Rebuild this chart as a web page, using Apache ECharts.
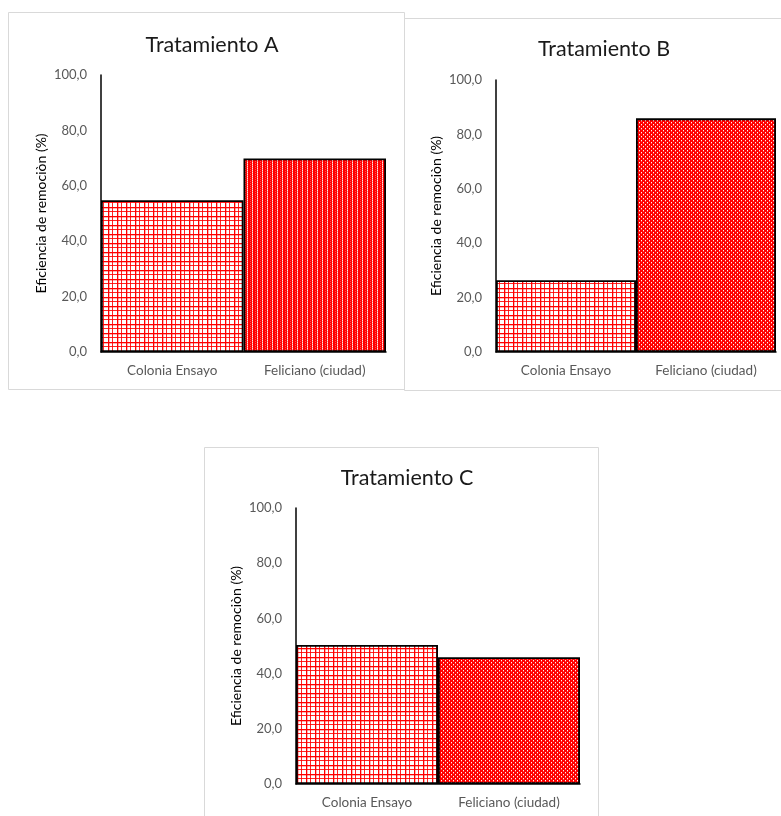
<!DOCTYPE html>
<html>
<head>
<meta charset="utf-8">
<script src="https://cdn.jsdelivr.net/npm/echarts@6/dist/echarts.min.js"></script>
<style>
  html, body { margin: 0; padding: 0; background: #ffffff; }
  #chart { width: 781px; height: 816px; }
</style>
</head>
<body>
<div id="chart"></div>
<script>
// Removal efficiency (%) per site for each treatment
const categories = ['Colonia Ensayo', 'Feliciano (ciudad)'];
const tratamientoA = [54.8, 69.9];
const tratamientoB = [26.4, 85.9];
const tratamientoC = [50.4, 45.9];
const panelTitles = ['Tratamiento A', 'Tratamiento B', 'Tratamiento C'];
const yAxisName = 'Eficiencia de remociòn (%)';
const yMin = 0, yMax = 100, yStep = 20;

// Fill patterns drawn on small tiles
function makeTile(w, h, draw) {
  const c = document.createElement('canvas');
  c.width = w; c.height = h;
  draw(c.getContext('2d'));
  return c;
}
// Grid (crosshatch) fill: white with red lines
const gridTile = makeTile(9, 9, ctx => {
  ctx.fillStyle = '#ffffff'; ctx.fillRect(0, 0, 9, 9);
  ctx.fillStyle = '#ff0000';
  ctx.fillRect(0, 0, 9, 1); ctx.fillRect(0, 0, 1, 9);
  ctx.fillStyle = 'rgba(255,0,0,0.85)';
  ctx.fillRect(0, 4, 9, 1); ctx.fillRect(4, 0, 1, 9);
  ctx.fillStyle = 'rgba(255,0,0,0.3)';
  ctx.fillRect(0, 1, 9, 1); ctx.fillRect(1, 0, 1, 9);
});
// Dotted fill: red with small white dots in offset rows
const dotTile = makeTile(4, 4, ctx => {
  ctx.fillStyle = '#ff0000'; ctx.fillRect(0, 0, 4, 4);
  ctx.fillStyle = 'rgba(255,255,255,0.95)';
  ctx.fillRect(1, 0, 1, 1); ctx.fillRect(3, 2, 1, 1);
  ctx.fillStyle = 'rgba(255,255,255,0.35)';
  ctx.fillRect(1, 1, 1, 1); ctx.fillRect(3, 3, 1, 1);
});
// Striped-dot fill: red with pale vertical dotted streaks
const stripeTile = makeTile(5, 4, ctx => {
  ctx.fillStyle = '#ff0000'; ctx.fillRect(0, 0, 5, 4);
  ctx.fillStyle = 'rgba(255,255,255,0.9)';
  ctx.fillRect(2, 0, 1, 1); ctx.fillRect(2, 2, 1, 1);
  ctx.fillStyle = 'rgba(255,255,255,0.55)';
  ctx.fillRect(2, 1, 1, 1); ctx.fillRect(2, 3, 1, 1);
  ctx.fillStyle = 'rgba(255,255,255,0.3)';
  ctx.fillRect(0, 1, 1, 1); ctx.fillRect(0, 3, 1, 1);
});
const pat = tile => ({ image: tile, repeat: 'repeat' });

const panels = [
  { data: tratamientoA, fills: [gridTile, stripeTile], grid: { left: 101, top: 75, width: 285, height: 277 },
    box: { x: 8.5, y: 12.5, width: 396, height: 377 }, title: { cx: 207, top: 29 } },
  { data: tratamientoB, fills: [gridTile, dotTile], grid: { left: 496, top: 80, width: 280, height: 272 },
    box: { x: 404.5, y: 18.5, width: 390, height: 372 }, title: { cx: 599, top: 33 } },
  { data: tratamientoC, fills: [gridTile, dotTile], grid: { left: 296, top: 508, width: 284, height: 276 },
    box: { x: 204.5, y: 447.5, width: 394, height: 380 }, title: { cx: 402, top: 462 } }
];

const font = 'Lato, "Liberation Sans", Arial, sans-serif';
const chart = echarts.init(document.getElementById('chart'), null, { renderer: 'canvas' });

const option = {
  backgroundColor: '#ffffff',
  animation: false,
  graphic: panels.map(p => ({
    type: 'rect', z: -10, silent: true,
    shape: { x: p.box.x, y: p.box.y, width: p.box.width, height: p.box.height },
    style: { fill: '#ffffff', stroke: '#d9d9d9', lineWidth: 1 }
  })),
  title: panels.map((p, i) => ({
    text: panelTitles[i],
    left: p.title.cx, top: p.title.top, textAlign: 'center',
    textStyle: { fontFamily: font, fontSize: 21.5, fontWeight: 'normal', color: '#1a1a1a' }
  })),
  grid: panels.map(p => ({ left: p.grid.left, top: p.grid.top, width: p.grid.width, height: p.grid.height, containLabel: false })),
  xAxis: panels.map((p, i) => ({
    type: 'category', gridIndex: i, data: categories, boundaryGap: true,
    axisLine: { show: true, lineStyle: { color: '#000000', width: 1.5 } },
    axisTick: { show: false },
    axisLabel: { color: '#595959', fontFamily: font, fontSize: 13.5, margin: 12 },
    splitLine: { show: false }
  })),
  yAxis: panels.map((p, i) => ({
    type: 'value', gridIndex: i, min: yMin, max: yMax, interval: yStep,
    name: yAxisName, nameLocation: 'middle', nameRotate: 90, nameGap: 53,
    nameTextStyle: { color: '#000000', fontFamily: font, fontSize: 14 },
    axisLine: { show: true, lineStyle: { color: '#000000', width: 1.5 } },
    axisTick: { show: false },
    splitLine: { show: false },
    axisLabel: {
      color: '#595959', fontFamily: font, fontSize: 13, margin: 14,
      formatter: v => v.toFixed(1).replace('.', ',')
    }
  })),
  series: panels.map((p, i) => ({
    type: 'bar', xAxisIndex: i, yAxisIndex: i,
    barCategoryGap: '0%', barGap: '0%',
    data: p.data.map((v, k) => ({
      value: v,
      itemStyle: { color: pat(p.fills[k]), borderColor: '#000000', borderWidth: 1.8 }
    }))
  }))
};
chart.setOption(option);
</script>
</body>
</html>
